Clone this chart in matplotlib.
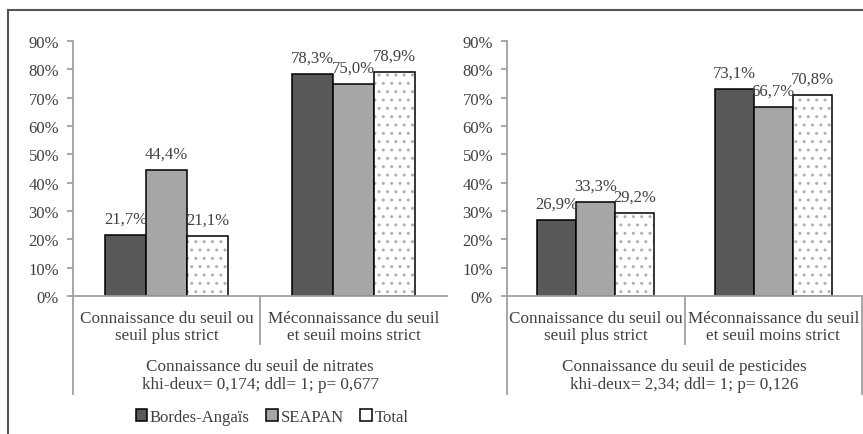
import matplotlib.pyplot as plt
from matplotlib.patches import Patch
from matplotlib.lines import Line2D

# données
categories = ['Connaissance du seuil ou\nseuil plus strict',
              'Méconnaissance du seuil\net seuil moins strict']
series = ['Bordes-Angaïs', 'SEAPAN', 'Total']
nitrates = {'Bordes-Angaïs': [21.7, 78.3], 'SEAPAN': [44.4, 75.0], 'Total': [21.1, 78.9]}
pesticides = {'Bordes-Angaïs': [26.9, 73.1], 'SEAPAN': [33.3, 66.7], 'Total': [29.2, 70.8]}
titre_nitrates = 'Connaissance du seuil de nitrates\nkhi-deux= 0,174; ddl= 1; p= 0,677'
titre_pesticides = 'Connaissance du seuil de pesticides\nkhi-deux= 2,34; ddl= 1; p= 0,126'
yticks = [0, 10, 20, 30, 40, 50, 60, 70, 80, 90]

couleurs = {'Bordes-Angaïs': '#595959', 'SEAPAN': '#a6a6a6', 'Total': 'white'}
txt = '#404040'
gris = '#a0a0a0'
plt.rcParams['font.family'] = ['Liberation Serif', 'DejaVu Serif']
plt.rcParams['font.size'] = 12

fig = plt.figure(figsize=(8.63, 4.35), dpi=100)


def graphique(ax, data, titre, ligne_droite):
    w = 0.22
    for i, s in enumerate(series):
        xs = [k + (i - 1) * w for k in range(len(categories))]
        vals = [v / 100 for v in data[s]]
        if s == 'Total':
            ax.bar(xs, vals, w, color='white', edgecolor='#b0b0b0', hatch='..', linewidth=0)
            ax.bar(xs, vals, w, facecolor='none', edgecolor='black', linewidth=1.1)
        else:
            ax.bar(xs, vals, w, color=couleurs[s], edgecolor='black', linewidth=1.1)
        for x, v in zip(xs, data[s]):
            ax.annotate(f'{v:.1f}'.replace('.', ',') + '%', (x, v / 100), xytext=(0, 6),
                        textcoords='offset points', ha='center', va='bottom', color=txt, fontsize=12)
    ax.set_xlim(-0.5, 1.5)
    ax.set_ylim(0, 0.9)
    ax.set_yticks([t / 100 for t in yticks])
    ax.set_yticklabels([f'{t}%' for t in yticks], color=txt, fontsize=12)
    ax.set_xticks([])
    for sp in ['top', 'right']:
        ax.spines[sp].set_visible(False)
    for sp in ['left', 'bottom']:
        ax.spines[sp].set_color(gris)
        ax.spines[sp].set_linewidth(1.3)
    ax.tick_params(axis='y', length=4, color=gris, width=1.3, pad=6)
    # axe de catégories à deux niveaux
    kw = dict(transform=ax.transAxes, color=gris, lw=1.3, clip_on=False)
    ax.plot([0, 0], [0, -0.384], **kw)
    ax.plot([0.5, 0.5], [0, -0.188], **kw)
    if ligne_droite:
        ax.plot([1, 1], [0, -0.384], **kw)
    for k, c in enumerate(categories):
        ax.text(0.25 + 0.5 * k, -0.118, c, transform=ax.transAxes, ha='center', va='center',
                color=txt, fontsize=12.3, linespacing=1.1)
    ax.text(0.5, -0.31, titre, transform=ax.transAxes, ha='center', va='center',
            color=txt, fontsize=12.3, linespacing=1.1)


ax1 = fig.add_axes([0.0846, 0.3172, 0.4334, 0.5862])
ax2 = fig.add_axes([0.5875, 0.3172, 0.4114, 0.5862])
graphique(ax1, nitrates, titre_nitrates, False)
graphique(ax2, pesticides, titre_pesticides, True)

handles = [Patch(facecolor=couleurs[s], edgecolor='black', linewidth=1.1) for s in series]
fig.legend(handles, series, loc='center', bbox_to_anchor=(272 / 863, 17 / 435), ncol=3,
           frameon=False, handlelength=0.7, handleheight=0.7, handletextpad=0.15,
           columnspacing=1.0, labelcolor=txt, prop={'size': 12})

# cadre
fig.add_artist(Line2D([8 / 863, 1], [424 / 435, 424 / 435], color='#555555', lw=1.5))
fig.add_artist(Line2D([8 / 863, 8 / 863], [0, 424 / 435], color='#555555', lw=1.5))

fig.savefig('out.png', dpi=100)
